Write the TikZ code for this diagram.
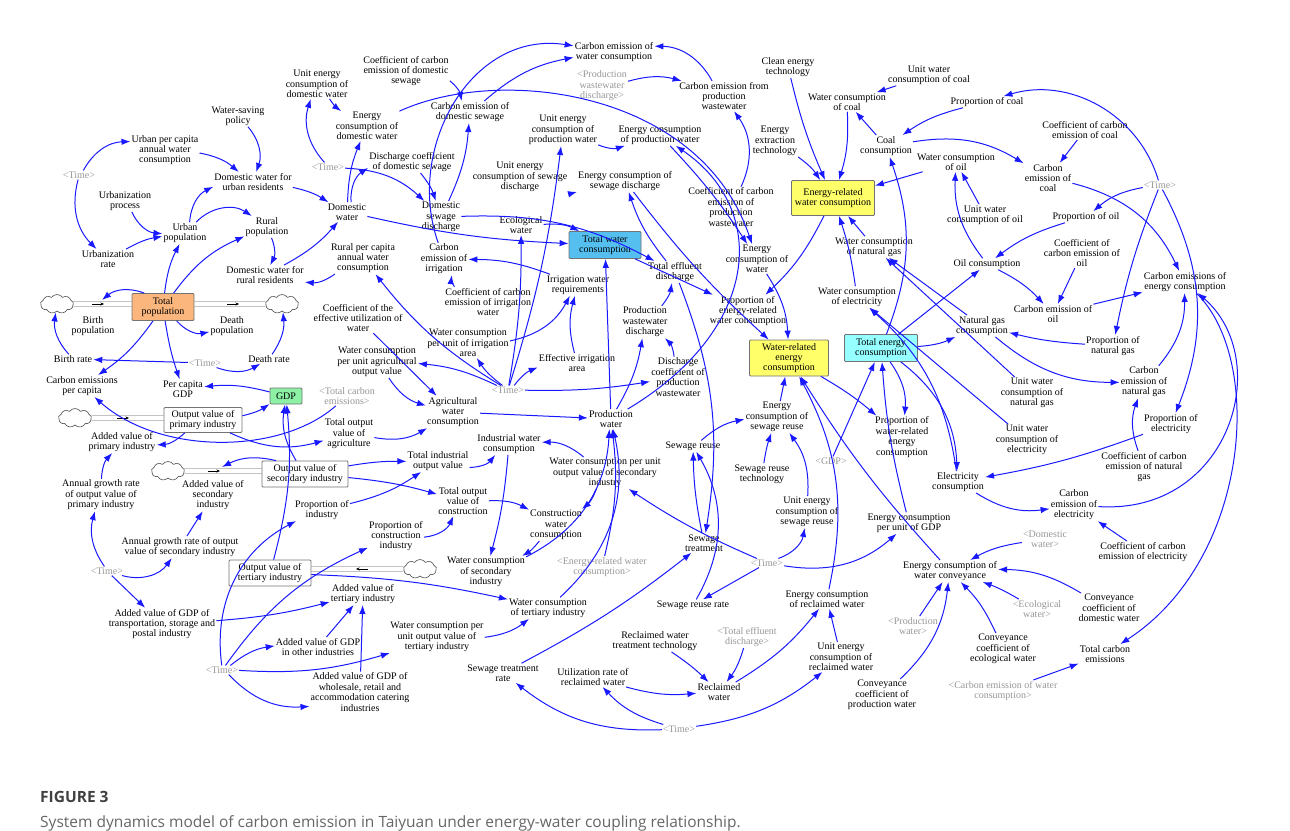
\documentclass[tikz,border=0pt]{standalone}
\usepackage{fontspec}
\setmainfont{Liberation Serif}
\newfontfamily\capfont{Open Sans}
\usetikzlibrary{arrows.meta,shapes.symbols}
\definecolor{ab}{RGB}{25,25,255}
\definecolor{shg}{RGB}{150,150,150}
\definecolor{orng}{RGB}{250,182,125}
\definecolor{grn}{RGB}{140,240,165}
\definecolor{twcc}{RGB}{85,192,240}
\definecolor{yel}{RGB}{255,255,105}
\definecolor{cyn}{RGB}{150,255,255}
\newcommand\dfont{\fontsize{10}{10.4}\selectfont}
\begin{document}
\begin{tikzpicture}[x=1pt,y=1pt,
  v/.style={align=center,font=\dfont,inner sep=1pt},
  sh/.style={v,text=shg},
  stock/.style={v,draw=black!55,line width=0.8pt,rounded corners=1pt,inner sep=2pt},
  ar/.style={draw=ab,line width=1pt,-{Latex[length=9pt,width=6.5pt]}},
  pipe/.style={draw=black!65,line width=0.6pt,double=white,double distance=3.6pt},
  valve/.style={draw=black,line width=0.5pt,-{Stealth[length=3.5pt,width=3pt]}},
  cl/.style={cloud,cloud puffs=9,cloud puff arc=110,aspect=1.7,draw=black!70,fill=white,line width=0.6pt,minimum width=33pt,minimum height=19pt,inner sep=0pt}]
\useasboundingbox (0,0) rectangle (1290,-830);
% ---------- top left
\node[v] (ueDW) at (317,-84) {Unit energy\\consumption of\\domestic water};
\node[v] (wsp) at (238,-116) {Water-saving\\policy};
\node[v] (upc) at (165,-150) {Urban per capita\\annual water\\consumption};
\node[sh] (t1) at (79,-175) {<Time>};
\node[v] (dwu) at (253,-182) {Domestic water for\\urban residents};
\node[v] (urbp) at (125,-201) {Urbanization\\process};
\node[v] (upop) at (185,-233) {Urban\\population};
\node[v] (rpop) at (267,-227) {Rural\\population};
\node[v] (urbr) at (108,-259) {Urbanization\\rate};
\node[v] (dwr) at (265,-275) {Domestic water for\\rural residents};
\node[sh] (t2) at (328,-167) {<Time>};
\node[v] (dw) at (347,-212) {Domestic\\water};
% ---------- top middle
\node[v] (cewc) at (614,-52) {Carbon emission of\\water consumption};
\node[sh] (spwd) at (602,-86) {<Production\\wastewater\\discharge>};
\node[v] (ccds) at (406,-71) {Coefficient of carbon\\emission of domestic\\sewage};
\node[v] (ceds) at (470,-112) {Carbon emission of\\domestic sewage};
\node[v] (ecdw) at (367,-126) {Energy\\consumption of\\domestic water};
\node[v] (uepw) at (563,-130) {Unit energy\\consumption of\\production water};
\node[v] (ecpw) at (660,-135) {Energy consumption\\of production water};
\node[v] (dcds) at (412,-162) {Discharge coefficient\\of domestic sewage};
\node[v] (uesd) at (520,-177) {Unit energy\\consumption of sewage\\discharge};
\node[v] (ecsd) at (625,-181) {Energy consumption of\\sewage discharge};
\node[v] (dsd) at (441,-217) {Domestic\\sewage\\discharge};
\node[v] (ecow) at (521,-225) {Ecological\\water};
\node[stock,fill=twcc,minimum width=72pt,minimum height=27pt] (twc) at (605,-245) {Total water\\consumption};
\node[v] (rpc) at (363,-258) {Rural per capita\\annual water\\consumption};
\node[v] (ceir) at (444,-259) {Carbon\\emission of\\irrigation};
\node[v] (iwr) at (578,-285) {Irrigation water\\requirements};
% ---------- top right
\node[v] (cepw) at (724,-96) {Carbon emission from\\production\\wastewater};
\node[v] (cet) at (788,-67) {Clean energy\\technology};
\node[v] (uwcc) at (929,-75) {Unit water\\consumption of coal};
\node[v] (wcc) at (847,-102) {Water consumption\\of coal};
\node[v] (pcoal) at (987,-102) {Proportion of coal};
\node[v] (eet) at (775,-141) {Energy\\extraction\\technology};
\node[v] (cc) at (886,-146) {Coal\\consumption};
\node[v] (wco) at (956,-162) {Water consumption\\of oil};
\node[stock,fill=yel,minimum width=83pt,minimum height=35pt] (erwc) at (833,-198) {Energy-related\\water consumption};
\node[v] (ccpw) at (731,-207) {Coefficient of carbon\\emission of\\production\\wastewater};
\node[v] (ecw) at (757,-259) {Energy\\consumption of\\water};
\node[v] (wcng) at (874,-247) {Water consumption\\of natural gas};
\node[v] (ted) at (675,-272) {Total effluent\\discharge};
% ---------- far right
\node[v] (ccoal) at (1085,-130) {Coefficient of carbon\\emission of coal};
\node[v] (ceco) at (1048,-178) {Carbon\\emission of\\coal};
\node[sh] (t3) at (1160,-185) {<Time>};
\node[v] (uwco) at (985,-215) {Unit water\\consumption of oil};
\node[v] (poil) at (1086,-217) {Proportion of oil};
\node[v] (oc) at (987,-264) {Oil consumption};
\node[v] (ccoil) at (1082,-253) {Coefficient of\\carbon emission of\\oil};
\node[v] (ceec) at (1185,-282) {Carbon emissions of\\energy consumption};
\node[v] (ceoil) at (1053,-314) {Carbon emission of\\oil};
\node[v] (ngc) at (982,-326) {Natural gas\\consumption};
\node[v] (png) at (1113,-346) {Proportion of\\natural gas};
\node[v] (ceng) at (1144,-382) {Carbon\\emission of\\natural gas};
\node[v] (uwcng) at (1032,-393) {Unit water\\consumption of\\natural gas};
\node[v] (uwcel) at (1027,-440) {Unit water\\consumption of\\electricity};
\node[v] (pel) at (1171,-424) {Proportion of\\electricity};
\node[v] (ccng) at (1144,-467) {Coefficient of carbon\\emission of natural\\gas};
\node[v] (elc) at (958,-482) {Electricity\\consumption};
\node[v] (ceel) at (1074,-505) {Carbon\\emission of\\electricity};
% ---------- middle right
\node[v] (perwc) at (748,-311) {Proportion of\\energy-related\\water consumption};
\node[v] (wcel) at (857,-297) {Water consumption\\of electricity};
\node[stock,fill=yel,minimum width=79pt,minimum height=36pt] (wrec) at (789,-358) {Water-related\\energy\\consumption};
\node[stock,fill=cyn,minimum width=73pt,minimum height=27pt] (tec) at (881,-348) {Total energy\\consumption};
\node[v] (ecsr) at (777,-417) {Energy\\consumption of\\sewage reuse};
\node[v] (pwrec) at (902,-437) {Proportion of\\water-related\\energy\\consumption};
\node[v] (sr) at (693,-446) {Sewage reuse};
\node[sh] (sgdp) at (831,-461) {<GDP>};
\node[v] (srt) at (762,-474) {Sewage reuse\\technology};
\node[v] (uesr) at (807,-512) {Unit energy\\consumption of\\sewage reuse};
% ---------- left middle (stocks)
\node[stock,fill=orng,minimum width=62pt,minimum height=27pt] (tp) at (163,-307) {Total\\population};
\node[cl] (c1) at (57,-304) {};
\node[cl] (c2) at (282,-304) {};
\node[v] (bpop) at (93,-326) {Birth\\population};
\node[v] (dpop) at (232,-326) {Death\\population};
\node[v] (br) at (73,-359) {Birth rate};
\node[sh] (t4) at (205,-363) {<Time>};
\node[v] (dr) at (269,-359) {Death rate};
\node[v] (cepc) at (82,-386) {Carbon emissions\\per capita};
\node[v] (pcgdp) at (183,-389) {Per capita\\GDP};
\node[stock,fill=grn,minimum width=32pt,minimum height=16pt] (gdp) at (286,-396) {GDP};
\node[sh] (stce) at (347,-396) {<Total carbon\\emissions>};
\node[cl] (c3) at (75,-418) {};
\node[stock,fill=white,minimum width=78pt,minimum height=25pt] (ovp) at (203,-420) {Output value of\\primary industry};
\node[v] (avp) at (122,-442) {Added value of\\primary industry};
\node[v] (tova) at (349,-434) {Total output\\value of\\agriculture};
\node[cl] (c4) at (168,-471) {};
\node[stock,fill=white,minimum width=86pt,minimum height=26pt] (ovs) at (305,-474) {Output value of\\secondary industry};
\node[v] (avs) at (213,-495) {Added value of\\secondary\\industry};
\node[v] (agrp) at (101,-495) {Annual growth rate\\of output value of\\primary industry};
\node[v] (pind) at (322,-510) {Proportion of\\industry};
% ---------- middle
\node[v] (cceiw) at (488,-302) {Coefficient of carbon\\emission of irrigation\\water};
\node[v] (ceuw) at (358,-318) {Coefficient of the\\effective utilization of\\water};
\node[v] (pwd) at (645,-322) {Production\\wastewater\\discharge};
\node[v] (wcia) at (468,-343) {Water consumption\\per unit of irrigation\\area};
\node[v] (eia) at (577,-363) {Effective irrigation\\area};
\node[v] (wcpa) at (377,-362) {Water consumption\\per unit agricultural\\output value};
\node[sh] (t5) at (508,-390) {<Time>};
\node[v] (awc) at (453,-412) {Agricultural\\water\\consumption};
\node[v] (pw) at (611,-419) {Production\\water};
\node[v] (dcpw) at (678,-377) {Discharge\\coefficient of\\production\\wastewater};
\node[v] (iwc) at (509,-444) {Industrial water\\consumption};
\node[v] (tiov) at (438,-461) {Total industrial\\output value};
\node[v] (wcps) at (605,-473) {Water consumption per unit\\output value of secondary\\industry};
\node[v] (tovc) at (463,-501) {Total output\\value of\\construction};
\node[v] (cwc) at (556,-525) {Construction\\water\\consumption};
% ---------- lower left
\node[v] (agrs) at (180,-547) {Annual growth rate of output\\value of secondary industry};
\node[sh] (t6) at (107,-571) {<Time>};
\node[stock,fill=white,minimum width=82pt,minimum height=26pt] (ovt) at (270,-573) {Output value of\\tertiary industry};
\node[cl] (c5) at (420,-569) {};
\node[v] (avgt) at (162,-624) {Added value of GDP of\\transportation, storage and\\postal industry};
\node[sh] (t7) at (222,-670) {<Time>};
\node[v] (avgo) at (318,-647) {Added value of GDP\\in other industries};
\node[v] (avgw) at (360,-692) {Added value of GDP of\\wholesale, retail and\\accommodation catering\\industries};
\node[v] (pci) at (396,-536) {Proportion of\\construction\\industry};
\node[v] (wcsi) at (486,-572) {Water consumption\\of secondary\\industry};
\node[sh] (serwc) at (602,-567) {<Energy-related water\\consumption>};
\node[v] (avt) at (363,-594) {Added value of\\tertiary industry};
\node[v] (wcti) at (548,-608) {Water consumption\\of tertiary industry};
\node[v] (wcpt) at (437,-637) {Water consumption per\\unit output value of\\tertiary industry};
\node[v] (str) at (503,-673) {Sewage treatment\\rate};
\node[v] (urrw) at (593,-677) {Utilization rate of\\reclaimed water};
\node[v] (rwtt) at (655,-641) {Reclaimed water\\treatment technology};
% ---------- lower right
\node[v] (st) at (704,-543) {Sewage\\treatment};
\node[sh] (t8) at (767,-563) {<Time>};
\node[v] (ecgdp) at (909,-523) {Energy consumption\\per unit of GDP};
\node[v] (srr) at (693,-605) {Sewage reuse rate};
\node[v] (ecrw) at (827,-599) {Energy consumption\\of reclaimed water};
\node[sh] (sted) at (747,-637) {<Total effluent\\discharge>};
\node[v] (ecwc) at (950,-571) {Energy consumption of\\water conveyance};
\node[sh] (spw) at (913,-626) {<Production\\water>};
\node[v] (uerw) at (841,-657) {Unit energy\\consumption of\\reclaimed water};
\node[v] (rw) at (719,-692) {Reclaimed\\water};
\node[v] (ccpw2) at (882,-695) {Conveyance\\coefficient of\\production water};
\node[sh] (t9) at (679,-729) {<Time>};
\node[sh] (sdw) at (1045,-539) {<Domestic\\water>};
\node[v] (ccel) at (1143,-552) {Coefficient of carbon\\emission of electricity};
\node[sh] (sew) at (1037,-609) {<Ecological\\water>};
\node[v] (ccdw) at (1109,-608) {Conveyance\\coefficient of\\domestic water};
\node[v] (ccew) at (1003,-649) {Conveyance\\coefficient of\\ecological water};
\node[v] (tce) at (1105,-654) {Total carbon\\emissions};
\node[sh] (scewc) at (1003,-691) {<Carbon emission of water\\consumption>};
% ---------- pipes and valves
\draw[pipe] (c1) -- (c1 -| tp.west);
\draw[pipe] (tp.east |- c2) -- (c2);
\draw[pipe] (c3) -- (c3 -| ovp.west);
\draw[pipe] (c4) -- (c4 -| ovs.west);
\draw[pipe] (c5) -- (c5 -| ovt.east);
\draw[valve] (92,-304) -- (104,-304);
\draw[valve] (227,-304) -- (239,-304);
\draw[valve] (117,-418) -- (129,-418);
\draw[valve] (208,-471) -- (220,-471);
\draw[valve] (368,-569) -- (356,-569);
\coordinate (bv) at (102,-300);
\coordinate (sv) at (222,-467);
% ---------- connectors
\draw[ar] (t1) to[bend left=30] (upc);
\draw[ar] (t1) to[bend right=30] (urbr);
\draw[ar] (upc) to[bend left=15] (dwu);
\draw[ar] (wsp) to[bend left=30] (dwu);
\draw[ar] (urbp) to[bend right=30] (upop);
\draw[ar] (urbr) to[bend left=10] (upop);
\draw[ar] (upop) to[bend left=30] (dwu);
\draw[ar] (upop) to[bend left=40] (rpop);
\draw[ar] (dwu) to[bend left=10] (dw);
\draw[ar] (rpop) to[bend left=25] (dwr);
\draw[ar] (dwr) to[bend right=10] (dw);
\draw[ar] (tp) to[bend left=10] (upop);
\draw[ar] (tp) to[bend left=15] (rpop);
\draw[ar] (t2) to[bend left=30] (ueDW);
\draw[ar] (ueDW) to[bend right=10] (ecdw);
\draw[ar] (dw) to[bend left=10] (ecdw);
\draw[ar] (dw) to[bend left=30] (dcds);
\draw[ar] (t2) to[bend left=20] (dsd);
\draw[ar] (dcds) to[bend left=10] (dsd);
\draw[ar] (ccds) to[bend left=20] (ceds);
\draw[ar] (dsd) to[bend right=10] (ceds);
\draw[ar] (ceds) to[bend left=15] (cewc);
\draw[ar] (ceir) .. controls (405,-150) and (470,-30) .. (cewc);
\draw[ar] (cepw) to[bend right=30] (cewc);
\draw[ar] (spwd) to[bend left=15] (cepw);
\draw[ar] (ccpw) to[bend right=30] (cepw);
\draw[ar] (ecdw) .. controls (500,-65) and (700,-90) .. (ecw);
\draw[ar] (uepw) to[bend right=20] (ecpw);
\draw[ar] (uesd) to[bend right=15] (ecsd);
\draw[ar] (ted) to[bend left=10] (ecsd);
\draw[ar] (ecpw) to[bend left=5] (ecw);
\draw[ar] (ecsd) to[bend right=5] (wrec);
\draw[ar] (pw) .. controls (760,-330) and (770,-210) .. (ecpw);
\draw[ar] (ecw) to[bend left=15] (wrec);
\draw[ar] (dsd) to[bend left=15] (ted);
\draw[ar] (dw) to[bend right=5] (twc);
\draw[ar] (ecow) to[bend left=15] (twc);
\draw[ar] (pw) -- (twc);
\draw[ar] (twc) -- (perwc);
\draw[ar] (erwc) to[bend left=10] (perwc);
\draw[ar] (pwd) to[bend right=15] (ted);
\draw[ar] (dcpw) to[bend right=20] (pwd);
\draw[ar] (pw) to[bend right=10] (pwd);
\draw[ar] (t5) to[bend right=5] (dcpw);
\draw[ar] (t5) to[bend left=15] (eia);
\draw[ar] (t5) to[bend left=10] (wcia);
\draw[ar] (t5) to[bend right=10] (wcpa);
\draw[ar] (t5) to[bend left=10] (rpc);
\draw[ar] (t5) to[bend right=5] (ecow);
\draw[ar] (t5) to[bend right=5] (uepw);
\draw[ar] (ceuw) -- (awc);
\draw[ar] (wcpa) to[bend right=20] (awc);
\draw[ar] (tova) to[bend right=20] (awc);
\draw[ar] (awc) -- (pw);
\draw[ar] (eia) to[bend left=15] (iwr);
\draw[ar] (wcia) to[bend right=25] (iwr);
\draw[ar] (iwr) to[bend right=10] (ceir);
\draw[ar] (cceiw) to[bend left=20] (ceir);
\draw[ar] (rpc) to[bend left=20] (dwr);
\draw[ar] (tp) to[bend right=5] (pcgdp);
\draw[ar] (tp) to[bend left=10] (cepc);
\draw[ar] (t4) -- (br);
\draw[ar] (t4) to[bend right=25] (dr);
\draw[ar] (dr) to[bend right=20] (c2);
\draw[ar] (br) to[bend left=25] (c1);
\draw[ar] (tp) to[bend right=30] (bv);
\draw[ar] (tp) to[bend right=30] (dpop);
\draw[ar] (gdp) to[bend right=10] (pcgdp);
\draw[ar] (ovp) to[bend right=10] (gdp);
\draw[ar] (stce) .. controls (280,-455) and (160,-455) .. (cepc);
\draw[ar] (ovp) to[bend right=20] (tova);
\draw[ar] (ovs) to[bend left=20] (gdp);
\draw[ar] (ovt) to[bend right=10] (gdp);
\draw[ar] (ovs) to[bend right=20] (sv);
\draw[ar] (ovp) to[bend left=20] (avp);
\draw[ar] (agrp) to[bend left=20] (avp);
\draw[ar] (t6) to[bend left=25] (agrp);
\draw[ar] (t6) to[bend right=35] (agrs);
\draw[ar] (t6) -- (avgt);
\draw[ar] (agrs) -- (avs);
\draw[ar] (ovs) to[bend left=5] (tiov);
\draw[ar] (ovs) to[bend left=5] (tovc);
\draw[ar] (pind) to[bend right=10] (tiov);
\draw[ar] (pci) to[bend right=30] (tovc);
\draw[ar] (tovc) to[bend left=15] (cwc);
\draw[ar] (wcps) to[bend left=15] (cwc);
\draw[ar] (wcps) to[bend right=20] (iwc);
\draw[ar] (tiov) to[bend right=25] (iwc);
\draw[ar] (iwc) to[bend left=5] (wcsi);
\draw[ar] (cwc) to[bend left=10] (wcsi);
\draw[ar] (wcsi) to[bend right=30] (pw);
\draw[ar] (wcti) to[bend right=30] (pw);
\draw[ar] (serwc) to[bend right=10] (pw);
\draw[ar] (t7) to[bend left=35] (pind);
\draw[ar] (t7) to[bend left=15] (pci);
\draw[ar] (t7) to[bend left=15] (avgo);
\draw[ar] (t7) to[bend right=25] (avgw);
\draw[ar] (t7) to[bend right=10] (wcpt);
\draw[ar] (ovt) to[bend left=5] (wcti);
\draw[ar] (wcpt) to[bend right=15] (wcti);
\draw[ar] (avgt) to[bend right=5] (avt);
\draw[ar] (avgo) -- (avt);
\draw[ar] (avgw) -- (avt);
\draw[ar] (str) to[bend right=5] (st);
\draw[ar] (t9) to[bend left=20] (str);
\draw[ar] (t9) to[bend left=15] (urrw);
\draw[ar] (urrw) to[bend right=10] (rw);
\draw[ar] (rwtt) to[bend left=5] (rw);
\draw[ar] (sted) to[bend left=10] (rw);
\draw[ar] (rw) to[bend right=10] (ecrw);
\draw[ar] (uerw) -- (ecrw);
\draw[ar] (t9) to[bend right=15] (uerw);
\draw[ar] (ecrw) to[bend right=20] (wrec);
\draw[ar] (ecwc) to[bend left=5] (wrec);
\draw[ar] (t8) -- (srr);
\draw[ar] (t8) to[bend right=30] (uesr);
\draw[ar] (t8) to[bend right=25] (ecgdp);
\draw[ar] (t8) to[bend left=5] (wcps);
\draw[ar] (srr) to[bend right=30] (sr);
\draw[ar] (st) to[bend left=5] (sr);
\draw[ar] (ted) to[bend left=15] (st);
\draw[ar] (sr) to[bend left=15] (ecsr);
\draw[ar] (srt) to[bend left=5] (ecsr);
\draw[ar] (uesr) to[bend right=20] (ecsr);
\draw[ar] (ecsr) -- (wrec);
\draw[ar] (cet) to[bend right=5] (erwc);
\draw[ar] (wcc) to[bend left=10] (erwc);
\draw[ar] (eet) to[bend left=10] (erwc);
\draw[ar] (wco) -- (erwc);
\draw[ar] (wcng) -- (erwc);
\draw[ar] (wcel) to[bend right=5] (erwc);
\draw[ar] (cc) -- (wcc);
\draw[ar] (uwcc) -- (wcc);
\draw[ar] (pcoal) to[bend right=10] (cc);
\draw[ar] (t3) to[bend right=45] (pcoal);
\draw[ar] (tec) to[bend right=20] (cc);
\draw[ar] (cc) to[bend left=20] (ceco);
\draw[ar] (ccoal) -- (ceco);
\draw[ar] (ceco) to[bend left=25] (ceec);
\draw[ar] (t3) to[bend right=15] (poil);
\draw[ar] (t3) to[bend right=5] (png);
\draw[ar] (t3) to[bend left=25] (pel);
\draw[ar] (uwco) -- (wco);
\draw[ar] (poil) to[bend right=10] (oc);
\draw[ar] (oc) to[bend left=20] (wco);
\draw[ar] (oc) to[bend left=10] (ceoil);
\draw[ar] (ccoil) -- (ceoil);
\draw[ar] (ceoil) -- (ceec);
\draw[ar] (tec) -- (oc);
\draw[ar] (tec) to[bend right=10] (ngc);
\draw[ar] (png) to[bend left=5] (ngc);
\draw[ar] (ngc) -- (wcng);
\draw[ar] (uwcng) -- (wcng);
\draw[ar] (uwcel) -- (wcel);
\draw[ar] (elc) to[bend right=20] (wcel);
\draw[ar] (ngc) to[bend right=20] (ceng);
\draw[ar] (ccng) to[bend left=20] (ceng);
\draw[ar] (ceng) to[bend right=20] (ceec);
\draw[ar] (pel) to[bend left=5] (elc);
\draw[ar] (tec) to[bend left=25] (elc);
\draw[ar] (elc) to[bend right=20] (ceel);
\draw[ar] (ccel) -- (ceel);
\draw[ar] (ceel) .. controls (1230,-515) and (1275,-360) .. (ceec);
\draw[ar] (ceec) .. controls (1265,-360) and (1250,-560) .. (tce);
\draw[ar] (ecgdp) to[bend left=5] (tec);
\draw[ar] (sgdp) -- (tec);
\draw[ar] (tec) to[bend left=20] (pwrec);
\draw[ar] (wrec) to[bend left=5] (pwrec);
\draw[ar] (sdw) to[bend right=10] (ecwc);
\draw[ar] (sew) to[bend right=5] (ecwc);
\draw[ar] (ccdw) to[bend right=15] (ecwc);
\draw[ar] (ccew) to[bend right=10] (ecwc);
\draw[ar] (spw) -- (ecwc);
\draw[ar] (ccpw2) to[bend right=20] (ecwc);
\draw[ar] (scewc) -- (tce);
% ---------- caption
\node[anchor=west,font=\capfont\fontsize{15.5}{18}\selectfont\bfseries,text=black!75,inner sep=0pt] (fig) at (40,-797) {FIGURE 3};
\node[anchor=west,font=\capfont\fontsize{15.5}{18}\selectfont,text=black!60,inner sep=0pt] (cap) at (40,-823) {System dynamics model of carbon emission in Taiyuan under energy-water coupling relationship.};
\end{tikzpicture}
\end{document}
